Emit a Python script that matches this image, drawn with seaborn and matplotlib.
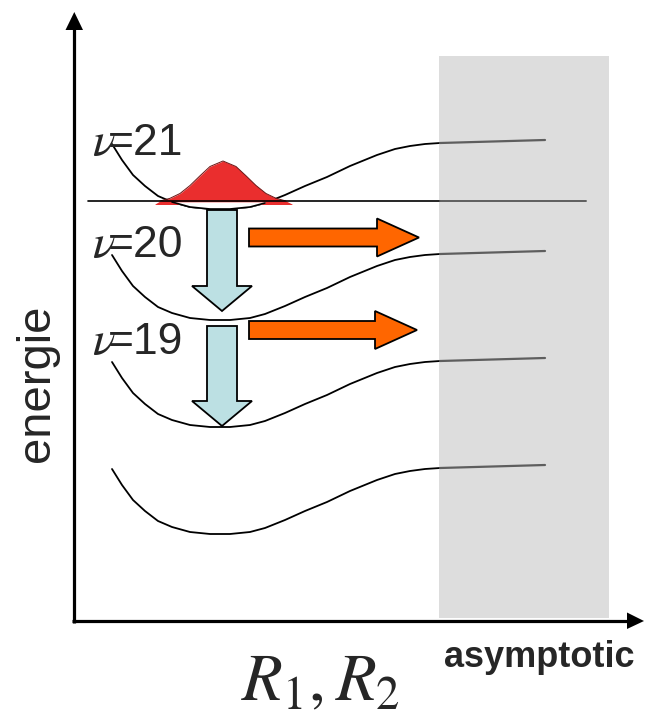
import matplotlib
matplotlib.use("Agg")
import matplotlib.pyplot as plt
import matplotlib.patches as mpatches
import numpy as np
import pandas as pd
import seaborn as sns

curve_x = [112, 122, 133, 145, 158, 172, 190, 210, 230, 250, 265, 285, 305, 327, 350, 377, 395, 410, 425, 440, 545]
curve_v21 = [144, 160, 175, 186, 196, 202, 207, 209, 209, 207, 203, 195, 186, 177, 166, 155, 149, 146, 144, 143, 140]
curve_v20 = [255, 271, 286, 297, 307, 313, 318, 320, 320, 318, 314, 306, 297, 288, 277, 266, 260, 257, 255, 254, 251]
curve_v19 = [362, 378, 393, 404, 414, 420, 425, 427, 427, 425, 421, 413, 404, 395, 384, 373, 367, 364, 362, 361, 358]
curve_v18 = [469, 485, 500, 511, 521, 527, 532, 534, 534, 532, 528, 520, 511, 502, 491, 480, 474, 471, 469, 468, 465]
asymptote_start = 440

level_labels = ["21", "20", "19"]
label_baseline = [155, 257, 354]

packet_x = [155, 160, 170, 180, 190, 200, 210, 223, 236, 246, 256, 266, 276, 286, 292]
packet_y = [204, 201, 198.3, 193.5, 185.5, 175.8, 166.5, 161, 166.5, 175.8, 185.5, 193.5, 198.3, 201, 204]
packet_base = 204.5

resonance_y = 201
resonance_x = [88, 586]

down_x = [222, 222]
down_y0 = [210, 326]
down_y1 = [311, 426]

side_x0 = [249, 249]
side_x1 = [419, 417]
side_y = [237.5, 330]

asym_region_x = [439, 609]
asym_region_y = [56, 618]

# ---------------- figure ----------------
sns.set_theme(style="white")
plt.rcParams["font.family"] = ["Liberation Sans", "DejaVu Sans"]
plt.rcParams["mathtext.fontset"] = "stix"

fig = plt.figure(figsize=(6.45, 7.18), dpi=100)
ax = fig.add_axes([0, 0, 1, 1])

# asymptotic region
ax.add_patch(mpatches.Rectangle((asym_region_x[0], asym_region_y[0]),
                                asym_region_x[1] - asym_region_x[0],
                                asym_region_y[1] - asym_region_y[0],
                                facecolor="#DDDDDD", edgecolor="none", zorder=0))

# potential curves
curves = {"21": curve_v21, "20": curve_v20, "19": curve_v19, "18": curve_v18}
rows = []
for name, ys in curves.items():
    for x, y in zip(curve_x, ys):
        rows.append({"level": name, "x": x, "y": y})
df = pd.DataFrame(rows)
inner = df[df["x"] <= asymptote_start]
outer = df[df["x"] >= asymptote_start]
sns.lineplot(data=inner, x="x", y="y", units="level", estimator=None, sort=False,
             color="black", lw=1.3, ax=ax, zorder=3)
sns.lineplot(data=outer, x="x", y="y", units="level", estimator=None, sort=False,
             color="#5E5E5E", lw=1.6, ax=ax, zorder=3)
ax.set_xlim(0, 645)
ax.set_ylim(718, 0)
ax.axis("off")

# wave packet
ax.fill_between(packet_x, packet_y, packet_base, color="#EA2E2E", lw=0, zorder=4)
ax.plot(packet_x[1:-1], packet_y[1:-1], color="#6B1515", lw=0.7, zorder=4)
cx = np.array(curve_x)
c21 = np.array(curve_v21)
m = (cx >= 172) & (cx <= 265)
ax.fill_between(cx[m], resonance_y + 0.8, c21[m], color="white", lw=0, zorder=4)
ax.plot(cx[m], c21[m], color="black", lw=1.2, zorder=5)

# resonance line
ax.plot([resonance_x[0], asymptote_start], [resonance_y, resonance_y], color="black", lw=1.2, zorder=5)
ax.plot([asymptote_start, resonance_x[1]], [resonance_y, resonance_y], color="#5E5E5E", lw=1.4, zorder=5)

# relaxation arrows (vertical)
for x, y0, y1 in zip(down_x, down_y0, down_y1):
    ax.add_patch(mpatches.FancyArrow(x, y0, 0, y1 - y0, width=30, head_width=60, head_length=25,
                                     length_includes_head=True, facecolor="#BCE0E3",
                                     edgecolor="black", lw=1.3, zorder=6))
# dissociation arrows (horizontal)
for x0, x1, y in zip(side_x0, side_x1, side_y):
    ax.add_patch(mpatches.FancyArrow(x0, y, x1 - x0, 0, width=18, head_width=38, head_length=42,
                                     length_includes_head=True, facecolor="#FF6600",
                                     edgecolor="black", lw=1.3, zorder=6))

# level labels
for lab, yb in zip(level_labels, label_baseline):
    ax.text(92, yb, r"$\nu$", fontsize=34, ha="left", va="baseline", zorder=7)
    ax.text(108, yb, "=" + lab, fontsize=32, ha="left", va="baseline", zorder=7)

# axes arrows
ax.plot([74, 74], [623, 28], color="black", lw=2.3, solid_capstyle="butt", zorder=8)
ax.add_patch(mpatches.Polygon([[65.5, 30], [83, 30], [74.3, 12]], closed=True,
                              facecolor="black", edgecolor="none", zorder=8))
ax.plot([72, 628], [621, 621], color="black", lw=2.3, solid_capstyle="butt", zorder=8)
ax.add_patch(mpatches.Polygon([[627, 612.5], [627, 629], [644, 621]], closed=True,
                              facecolor="black", edgecolor="none", zorder=8))

# axis labels
ax.text(37, 383, "energie", rotation=90, fontsize=34, ha="center", va="center")
ax.text(539, 667, "asymptotic", fontsize=26, fontweight="bold", ha="center", va="baseline")
ax.text(320, 700, r"$R_1,R_2$", fontsize=48, ha="center", va="baseline")

fig.savefig("out.png", dpi=100)
